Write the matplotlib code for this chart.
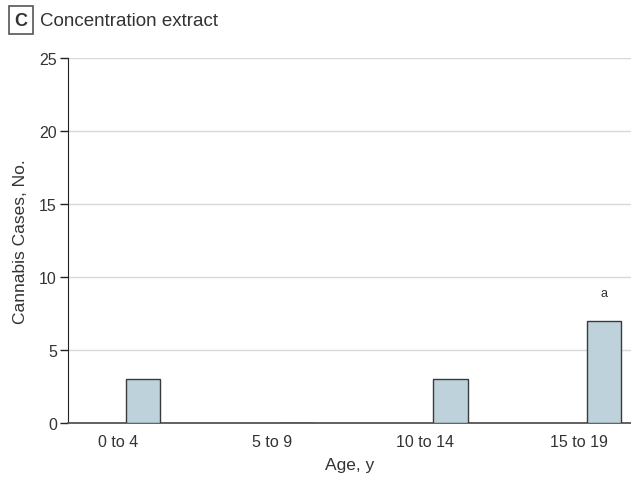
import matplotlib
matplotlib.use("Agg")
import matplotlib.pyplot as plt
import numpy as np

plt.rcParams['font.family'] = ['Liberation Sans', 'DejaVu Sans']

ages = ['0 to 4', '5 to 9', '10 to 14', '15 to 19']
cases = [3, 0, 3, 7]
flags = ['', '', '', 'a']
yticks = [0, 5, 10, 15, 20, 25]

txt = '#333333'
bar_fill = '#bed2db'

fig = plt.figure(figsize=(6.31, 4.81), dpi=100)
ax = fig.add_axes([0.1078, 0.1185, 0.8922, 0.7588])

x = np.arange(len(ages))
offset = 0.163
width = 0.225
ax.bar(x + offset, cases, width, color=bar_fill, edgecolor='#3a3a3a', linewidth=1.0, zorder=3)
for xi, v, f in zip(x, cases, flags):
    if f:
        ax.text(xi + offset, v + 1.5, f, ha='center', va='bottom', fontsize=9, color=txt)

ax.set_xlim(-0.325, 3.338)
ax.set_ylim(0, 25)
ax.set_xticks(x)
ax.set_xticklabels(ages)
ax.set_yticks(yticks)
ax.yaxis.grid(True, color='#d9d9d9', linewidth=1.0, zorder=0)
ax.set_axisbelow(True)

for s in ['top', 'right']:
    ax.spines[s].set_visible(False)
ax.spines['left'].set_color('#222222')
ax.spines['bottom'].set_color('#555555')
ax.spines['bottom'].set_linewidth(1.3)
ax.tick_params(axis='x', length=0, pad=8, labelsize=11.5, labelcolor=txt)
ax.tick_params(axis='y', length=6, width=1, color='#222222', labelsize=11.5, labelcolor=txt, pad=2)

ax.set_xlabel('Age, y', fontsize=12.5, color=txt, labelpad=6)
ax.set_ylabel('Cannabis Cases, No.', fontsize=12.5, color=txt, labelpad=8)

# panel letter in a box, then the panel title
fig.text(0.0333, 0.956, 'C', fontsize=13, fontweight='bold', color=txt, ha='center', va='center',
         bbox=dict(boxstyle='square,pad=0.3', facecolor='white', edgecolor='#555555', linewidth=1.2))
fig.text(0.064, 0.956, 'Concentration extract', fontsize=13.5, color=txt, ha='left', va='center')

fig.savefig('out.png', dpi=100)
